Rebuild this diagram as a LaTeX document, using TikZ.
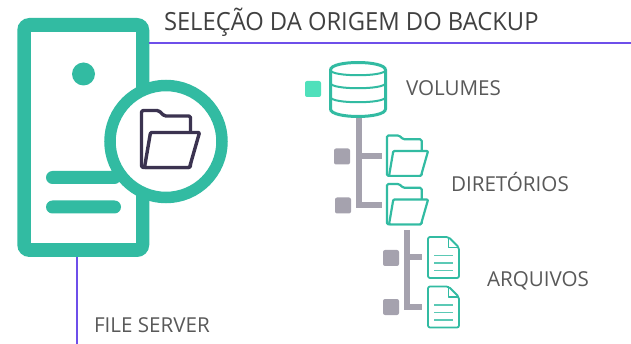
\documentclass[tikz,border=0pt]{standalone}
\usepackage{fontspec}
\setmainfont{Open Sans}
\definecolor{teal}{HTML}{32BBA2}
\definecolor{mint}{HTML}{4FE0BB}
\definecolor{dark}{HTML}{3B3350}
\definecolor{purp}{HTML}{6E4FEA}
\definecolor{gray}{HTML}{A5A2AE}
\definecolor{txt}{HTML}{595959}
\definecolor{ttl}{HTML}{404040}
\tikzset{
 x=1pt,y=-1pt,
 box/.style={inner sep=0,outer sep=0,minimum width=#1,minimum height=#1},
 sq/.style={box=16pt,rectangle,rounded corners=2pt,fill=gray},
 rule/.style={line width=2pt,purp},
 trunk/.style={line width=6pt,gray},
 lab/.style={inner sep=0,outer sep=0,anchor=west,text=txt,font=\fontsize{20.6}{24}\selectfont},
 pics/folder/.style={code={
  \draw[#1,line join=round,rounded corners=1.5pt,fill=white]
   (-29,-29) -- (-12,-29) -- (-6,-23.5) -- (20,-23.5) -- (20,-5) -- (20,28) -- (-29,28) -- cycle;
  \draw[#1,line join=round,fill=white,rounded corners=1pt]
   (-20,-7) -- (29,-7) -- (19,28) -- (-26,28) -- cycle;
 }},
 pics/doc/.style={code={
  \draw[teal,line width=1.8pt,line join=round,rounded corners=2pt,fill=white]
   (-15.5,-20.5) -- (5,-20.5) -- (15.5,-10) -- (15.5,20.5) -- (-15.5,20.5) -- cycle;
  \draw[teal,line width=1.8pt,line join=round] (5,-20.5) -- (5,-10) -- (15.5,-10);
  \draw[teal!80,line width=1.6pt] (-9.5,-2) -- (9.5,-2) (-9.5,5.5) -- (9.5,5.5) (-9.5,13) -- (9.5,13);
 }}
}
\begin{document}
\begin{tikzpicture}
\useasboundingbox (0,0) rectangle (631,344);
% rules
\coordinate (ruleEnd) at (631,43);
\coordinate (foot) at (77,344);
% server
\node[box=0pt,minimum width=132pt,minimum height=239pt,fill=teal,rounded corners=12pt] (server) at (83.25,137.5) {};
\node[box=0pt,minimum width=105pt,minimum height=211pt,fill=white] (serverIn) at (83.5,137.5) {};
\draw[rule] (server.east |- ruleEnd) -- (ruleEnd);
\draw[rule] (server.south -| foot) -- (foot);
\node[circle,box=23pt,fill=teal] (led) at (83.5,74) {};
\node[box=0pt,minimum width=75pt,minimum height=13pt,fill=teal,rounded corners=6.5pt] (bar1) at (83.5,177.5) {};
\node[box=0pt,minimum width=75pt,minimum height=13pt,fill=teal,rounded corners=6.5pt] (bar2) at (83.5,207) {};
\node[circle,box=112pt,draw=teal,line width=11.5pt,fill=white] (badge) at (166,141.5) {};
\pic at (170.5,139.5) {folder={dark,line width=3.4pt}};
% titles
\node[inner sep=0,outer sep=0,anchor=west,text=ttl,xscale=.95,font=\fontsize{25}{28}\selectfont] (title) at (164,22) {SELEÇÃO DA ORIGEM DO BACKUP};
\node[lab] (lvol) at (406,88) {VOLUMES};
\node[lab] (ldir) at (451,182) {DIRETÓRIOS};
\node[lab] (larq) at (487,281) {ARQUIVOS};
\node[lab] (lsrv) at (94,325) {FILE SERVER};
% tree 1
\coordinate (dbBase) at (359,118);
\coordinate (t1) at (359,156);
\coordinate (t2) at (359,205);
\coordinate (f1) at (407.5,156);
\coordinate (f2) at (407.5,204.5);
\draw[trunk] (dbBase) -- (t2) -- (382,205);
\draw[trunk] (t1) -- (382,156);
\node[sq] (s1) at (342,156.5) {};
\node[sq] (s2) at (343,205.5) {};
\node[box=16pt,rounded corners=2pt,fill=mint] (s0) at (313,89) {};
% database
\node[box=0pt,minimum width=58pt,minimum height=56pt] (db) at (358,90) {};
\draw[teal,line width=3pt,fill=white]
 (330.5,70) .. controls (330.5,60) and (385.5,60) .. (385.5,70)
 -- (385.5,109) .. controls (385.5,119) and (330.5,119) .. (330.5,109) -- cycle;
\draw[teal,line width=2pt] (330.5,70) .. controls (330.5,77) and (385.5,77) .. (385.5,70);
\draw[teal,line width=2pt] (330.5,83) .. controls (330.5,90) and (385.5,90) .. (385.5,83);
\draw[teal,line width=2pt] (330.5,97) .. controls (330.5,104) and (385.5,104) .. (385.5,97);
\pic[scale=.71] at (f1) {folder={teal,line width=2.2pt}};
\pic[scale=.71] at (f2) {folder={teal,line width=2.2pt}};
% tree 2
\coordinate (u0) at (406.5,230);
\coordinate (u1) at (406.5,257.5);
\coordinate (u2) at (406.5,307);
\draw[trunk] (u0) -- (u2) -- (422,307);
\draw[trunk] (u1) -- (422,257.5);
\node[sq] (s3) at (391,258) {};
\node[sq] (s4) at (391,307) {};
\pic at (443.5,257.5) {doc};
\pic at (443.5,307) {doc};
\end{tikzpicture}
\end{document}
